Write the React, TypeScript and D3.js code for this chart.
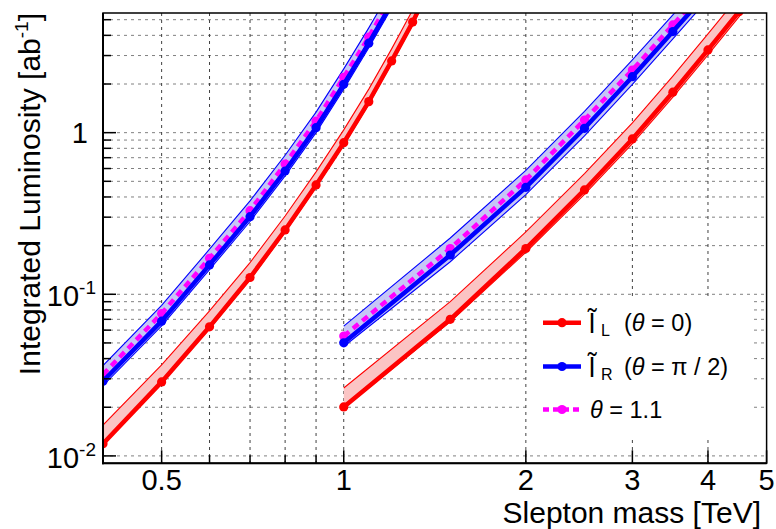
import React from 'react';
import * as d3 from 'd3';

// ---------- data ----------
// low-energy segment (red)
const massRedLow = [0.4, 0.5, 0.6, 0.7, 0.8, 0.9, 1.0, 1.1, 1.2, 1.3, 1.4];
const redLow = [0.0119, 0.0287, 0.0629, 0.127, 0.25, 0.475, 0.867, 1.556, 2.78, 4.83, 8.6];
const redLowUp = [0.0155, 0.0366, 0.079, 0.157, 0.305, 0.572, 1.04, 1.86, 3.3, 5.75, 10.1];
const redLowDn = [0.0117, 0.0281, 0.0612, 0.123, 0.242, 0.46, 0.84, 1.5, 2.69, 4.65, 8.2];

// low-energy segment (blue / magenta)
const massBlueLow = [0.4, 0.5, 0.6, 0.7, 0.8, 0.9, 1.0, 1.1, 1.2];
const blueLow = [0.029, 0.0682, 0.152, 0.302, 0.579, 1.074, 1.99, 3.58, 6.3];
const blueLowUp = [0.0362, 0.0855, 0.19, 0.378, 0.725, 1.34, 2.48, 4.45, 7.8];
const blueLowDn = [0.0272, 0.0638, 0.142, 0.282, 0.54, 1.0, 1.86, 3.35, 5.9];
const magLow = [0.0319, 0.076, 0.167, 0.329, 0.64, 1.18, 2.2, 3.9, 6.9];

// high-energy segment (red)
const massRedHigh = [1.0, 1.5, 2.0, 2.5, 3.0, 3.5, 4.0, 4.5, 5.0];
const redHigh = [0.0201, 0.07, 0.192, 0.442, 0.914, 1.78, 3.25, 5.6, 9.0];
const redHighUp = [0.0263, 0.09, 0.243, 0.558, 1.15, 2.24, 4.08, 7.0, 11.2];
const redHighDn = [0.0198, 0.0675, 0.182, 0.415, 0.855, 1.66, 3.03, 5.2, 8.4];

// high-energy segment (blue / magenta)
const massBlueHigh = [1.0, 1.5, 2.0, 2.5, 3.0, 3.5, 4.0];
const blueHigh = [0.0501, 0.175, 0.459, 1.064, 2.22, 4.22, 7.4];
const blueHighUp = [0.0635, 0.223, 0.585, 1.355, 2.82, 5.35, 9.3];
const blueHighDn = [0.0475, 0.159, 0.414, 0.955, 1.99, 3.8, 6.7];
const magHigh = [0.0551, 0.192, 0.51, 1.198, 2.44, 4.64, 8.1];

// ticks
const xGridTicks = [0.5, 0.6, 0.7, 0.8, 0.9, 1, 2, 3, 4];
const xMajorTicks = [0.5, 1, 2, 3, 4, 5];
const xTickLabels = ['0.5', '1', '2', '3', '4', '5'];
const yGridTicks = [
  0.01, 0.02, 0.03, 0.04, 0.05, 0.06, 0.07, 0.08, 0.09,
  0.1, 0.2, 0.3, 0.4, 0.5, 0.6, 0.7, 0.8, 0.9,
  1, 2, 3, 4, 5,
];
const yMajorTicks = [0.01, 0.1, 1];
const yTickBase = ['10', '10', '1'];
const yTickExp = ['-2', '-1', ''];

// ---------- layout ----------
const W = 776;
const H = 529;
const L = 103;
const R = 766.6;
const T = 13;
const B = 463.3;
const FONT = "'Liberation Sans', Arial, Helvetica, sans-serif";

const RED = '#ff0000';
const BLUE = '#0000ff';
const MAG = '#ff00ff';

export default function App() {
  const x = d3.scaleLog().domain([0.4, 5]).range([L, R]);
  const y = d3.scaleLog().domain([0.009, 5.5]).range([B, T]);

  const zipPts = (xs: number[], ys: number[]) => xs.map((v, i) => [v, ys[i]] as [number, number]);

  const line = d3
    .line<[number, number]>()
    .x((d) => x(d[0]))
    .y((d) => y(d[1]));

  const bandArea = (xs: number[], lo: number[], hi: number[]) =>
    d3
      .area<number>()
      .x((d) => x(d))
      .y0((_, i) => y(lo[i]))
      .y1((_, i) => y(hi[i]))(xs) || '';

  const band = (xs: number[], lo: number[], hi: number[], fill: string, stroke: string, key: string) => (
    <g key={key}>
      <path d={bandArea(xs, lo, hi)} fill={fill} stroke="none" />
      <path d={line(zipPts(xs, hi)) || ''} fill="none" stroke={stroke} strokeWidth={1.1} />
      <path d={line(zipPts(xs, lo)) || ''} fill="none" stroke={stroke} strokeWidth={1.1} />
    </g>
  );

  const series = (xs: number[], ys: number[], color: string, dashed: boolean, key: string) => (
    <g key={key}>
      <path
        d={line(zipPts(xs, ys)) || ''}
        fill="none"
        stroke={color}
        strokeWidth={4.5}
        strokeDasharray={dashed ? '7,5' : undefined}
      />
      {xs.map((v, i) => (
        <circle key={i} cx={x(v)} cy={y(ys[i])} r={4.6} fill={color} />
      ))}
    </g>
  );

  const legendEntries = [
    { color: RED, dashed: false, y: 322.7 },
    { color: BLUE, dashed: false, y: 366.5 },
    { color: MAG, dashed: true, y: 409.5 },
  ];

  return (
    <svg
      width={W}
      height={H}
      style={{ position: 'absolute', left: 0, top: 0, background: '#fff' }}
      fontFamily={FONT}
    >
      <defs>
        <clipPath id="plotclip">
          <rect x={L} y={T} width={R - L} height={B - T} />
        </clipPath>
      </defs>
      <rect x={0} y={0} width={W} height={H} fill="#fff" />

      {/* grid */}
      <g>
        {yGridTicks.map((v) => (
          <line
            key={'gy' + v}
            x1={L}
            x2={R}
            y1={y(v)}
            y2={y(v)}
            stroke="#808080"
            strokeWidth={1}
            strokeDasharray="3,4"
          />
        ))}
        {xGridTicks.map((v) => (
          <line
            key={'gx' + v}
            x1={x(v)}
            x2={x(v)}
            y1={T}
            y2={B}
            stroke="#404040"
            strokeWidth={1}
            strokeDasharray="3,4"
          />
        ))}
      </g>

      {/* data */}
      <g clipPath="url(#plotclip)">
        {band(massRedLow, redLowDn, redLowUp, '#fbc4c4', RED, 'rb1')}
        {band(massRedHigh, redHighDn, redHighUp, '#fbc4c4', RED, 'rb2')}
        {band(massBlueLow, blueLowDn, blueLowUp, '#c6c6f6', BLUE, 'bb1')}
        {band(massBlueHigh, blueHighDn, blueHighUp, '#c6c6f6', BLUE, 'bb2')}
        {series(massRedLow, redLow, RED, false, 'r1')}
        {series(massRedHigh, redHigh, RED, false, 'r2')}
        {series(massBlueLow, magLow, MAG, true, 'm1')}
        {series(massBlueHigh, magHigh, MAG, true, 'm2')}
        {series(massBlueLow, blueLow, BLUE, false, 'b1')}
        {series(massBlueHigh, blueHigh, BLUE, false, 'b2')}
      </g>

      {/* legend */}
      <rect x={528} y={297} width={226} height={143} fill="#fff" />
      {legendEntries.map((e, i) => (
        <g key={'le' + i}>
          <line
            x1={543}
            x2={581}
            y1={e.y}
            y2={e.y}
            stroke={e.color}
            strokeWidth={4.5}
            strokeDasharray={e.dashed ? '6,4' : undefined}
          />
          <circle cx={562} cy={e.y} r={4.6} fill={e.color} />
        </g>
      ))}
      <text x={589} y={333} fontSize={27} fill="#000">
        {'l\u0303'}
        <tspan x={601} y={336} fontSize={16}>L</tspan>
        <tspan x={624} y={331} fontSize={23.5}>(</tspan>
        <tspan fontSize={23.5} fontStyle="italic">θ</tspan>
        <tspan fontSize={23.5}> = 0)</tspan>
      </text>
      <text x={589} y={376.8} fontSize={27} fill="#000">
        {'l\u0303'}
        <tspan x={601} y={379.8} fontSize={16}>R</tspan>
        <tspan x={624} y={374.8} fontSize={23.5}>(</tspan>
        <tspan fontSize={23.5} fontStyle="italic">θ</tspan>
        <tspan fontSize={23.5}> = π / 2)</tspan>
      </text>
      <text x={590} y={417.8} fontSize={23.5} fill="#000">
        <tspan fontStyle="italic">θ</tspan>
        <tspan> = 1.1</tspan>
      </text>

      {/* frame */}
      <rect x={L} y={T} width={R - L} height={B - T} fill="none" stroke="#000" strokeWidth={1.5} />
      <line x1={L} x2={L} y1={T} y2={B + 1} stroke="#000" strokeWidth={2} />
      <line x1={L - 1} x2={R} y1={B} y2={B} stroke="#000" strokeWidth={2} />

      {/* x ticks */}
      {xGridTicks.concat([5]).map((v) => {
        const major = xMajorTicks.includes(v);
        return (
          <line
            key={'tx' + v}
            x1={x(v)}
            x2={x(v)}
            y1={B}
            y2={B - (major ? 13 : 8)}
            stroke="#000"
            strokeWidth={1.5}
          />
        );
      })}
      {xMajorTicks.map((v, i) => (
        <text key={'lx' + v} x={x(v)} y={490} fontSize={29} textAnchor="middle" fill="#000">
          {xTickLabels[i]}
        </text>
      ))}

      {/* y ticks */}
      {yGridTicks.map((v) => {
        const major = yMajorTicks.includes(v);
        return (
          <line
            key={'ty' + v}
            x1={L}
            x2={L + (major ? 13 : 8)}
            y1={y(v)}
            y2={y(v)}
            stroke="#000"
            strokeWidth={1.5}
          />
        );
      })}
      {yMajorTicks.map((v, i) =>
        yTickExp[i] ? (
          <text key={'ly' + v} x={96} y={y(v) + 12} fontSize={29} textAnchor="end" fill="#000">
            {yTickBase[i]}
            <tspan dy={-12} fontSize={19}>{yTickExp[i]}</tspan>
          </text>
        ) : (
          <text key={'ly' + v} x={88} y={y(v) + 10.5} fontSize={29} textAnchor="end" fill="#000">
            {yTickBase[i]}
          </text>
        )
      )}

      {/* axis titles */}
      <text x={761} y={523} fontSize={30} textAnchor="end" fill="#000">
        Slepton mass [TeV]
      </text>
      <text transform="translate(40,13) rotate(-90)" fontSize={30} textAnchor="end" fill="#000">
        Integrated Luminosity [ab
        <tspan dy={-12} fontSize={19}>-1</tspan>
        <tspan dy={12}>]</tspan>
      </text>
    </svg>
  );
}
